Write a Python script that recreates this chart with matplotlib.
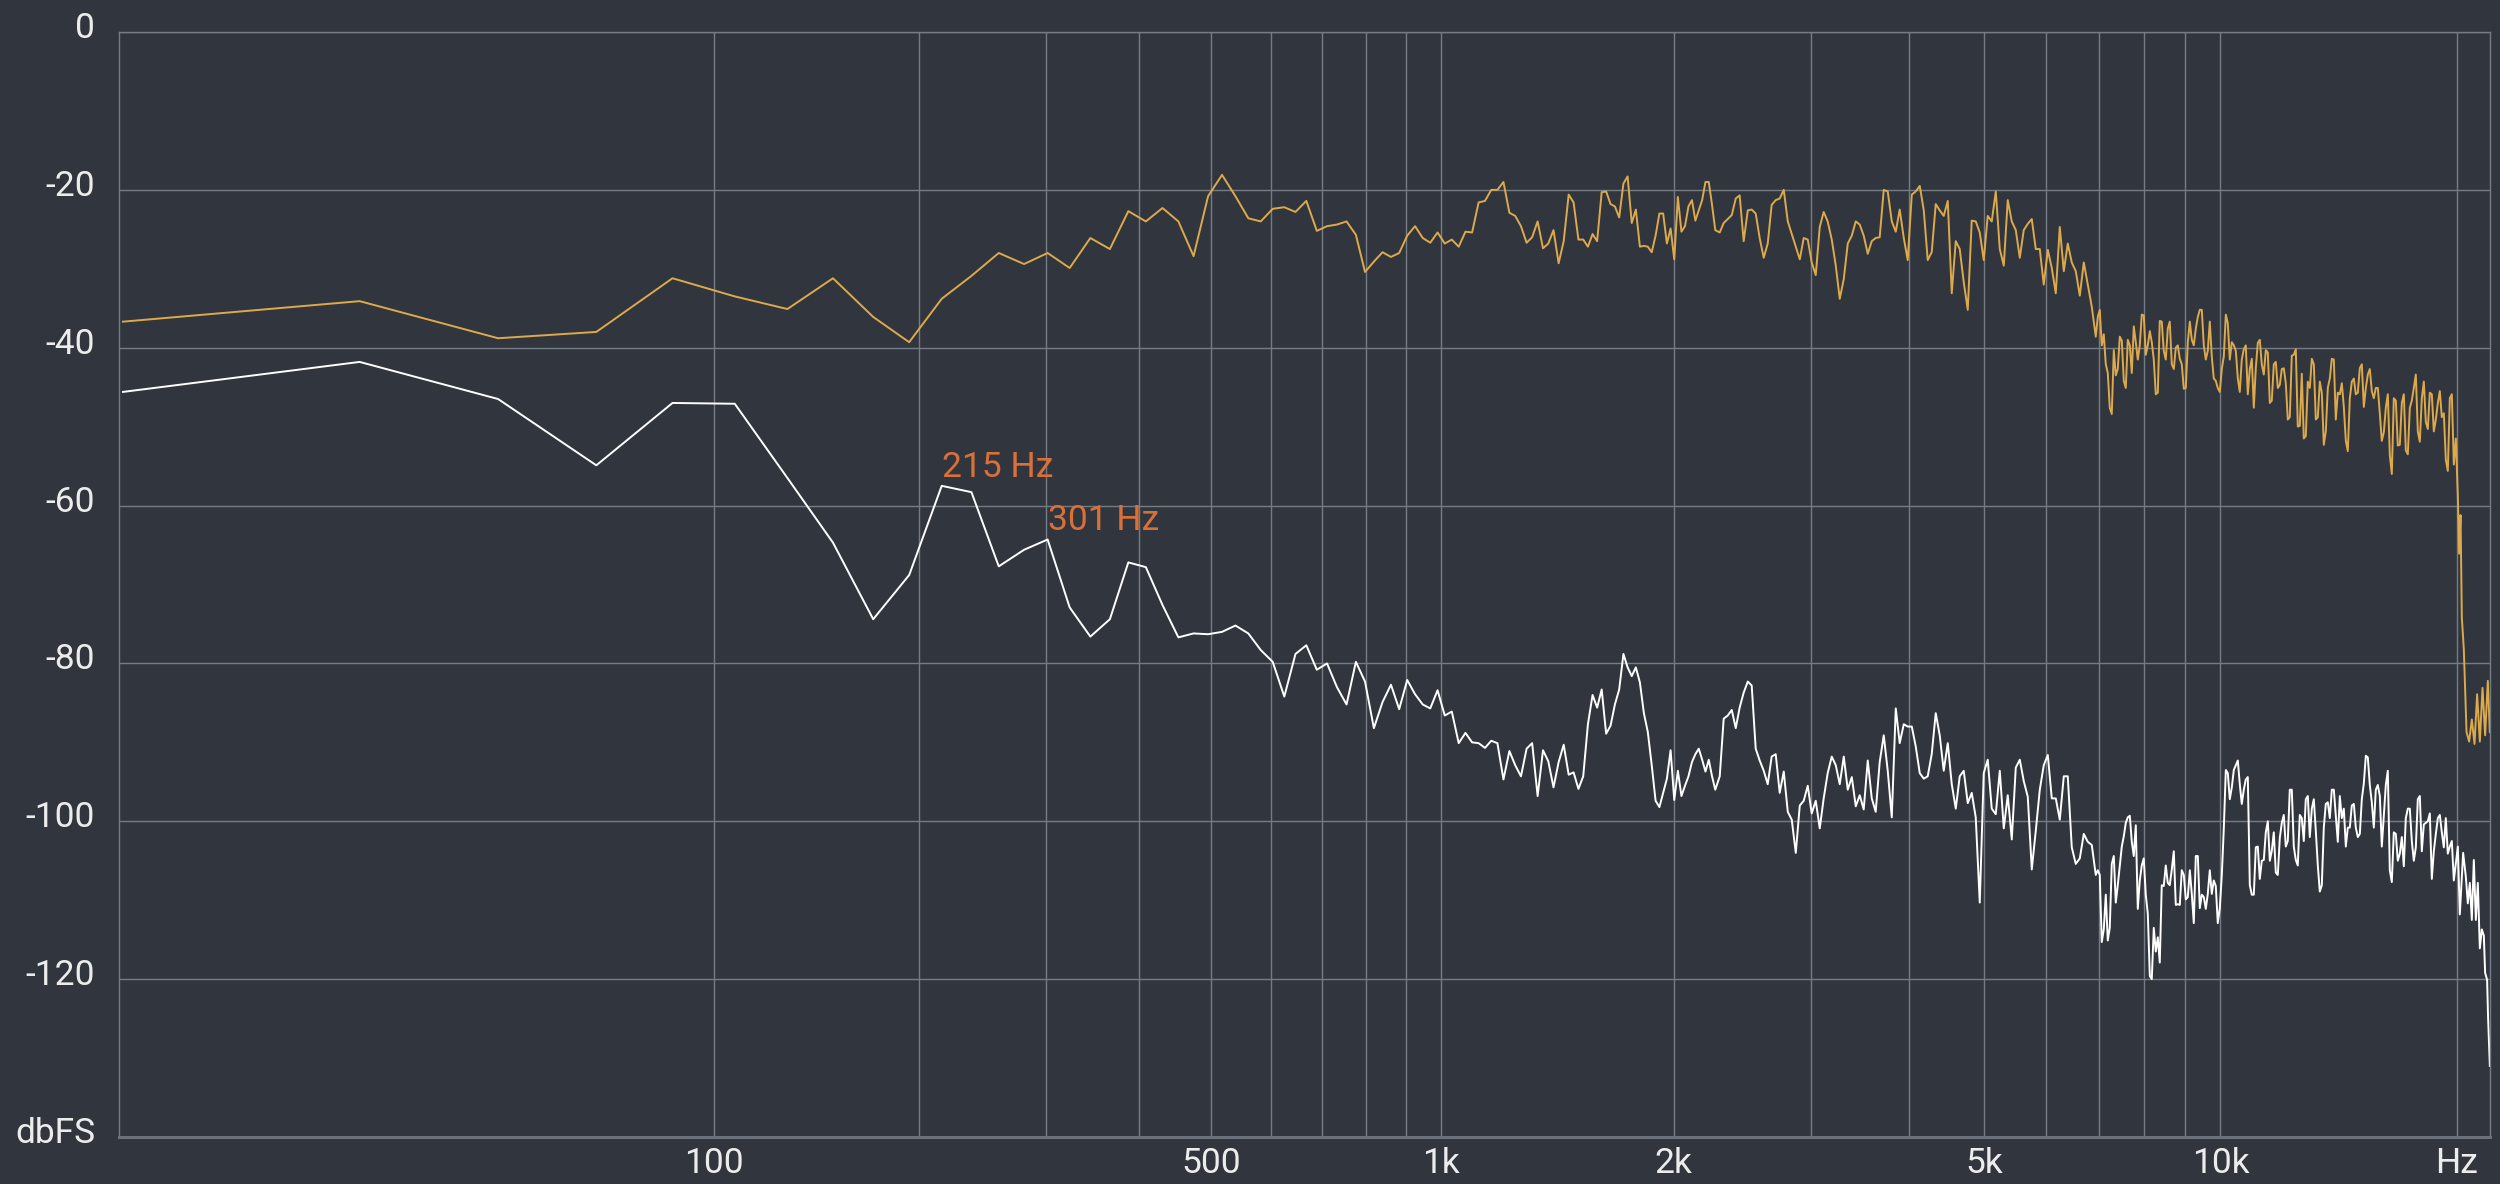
import numpy as np
import matplotlib.pyplot as plt
from matplotlib import transforms

# ---------------------------------------------------------------------------
# FFT setup
# ---------------------------------------------------------------------------
FS = 44100
NFFT = 2048
BIN_HZ = FS / NFFT                 # [Hz] bin spacing, ~21.5 Hz

# dB per FFT bin, bins 0..105 (DC .. ~2.26 kHz)
source_low = [
    -36.7, -34.1, -38.8, -38.0, -31.2, -33.5, -35.1, -31.2, -36.1, -39.3,
    -33.8, -30.9, -28.0, -29.4, -28.0, -29.9, -26.1, -27.5, -22.7, -24.0,
    -22.3, -24.0, -28.4, -20.8, -18.1, -20.8, -23.6, -24.0, -22.4, -22.2,
    -22.8, -21.4, -25.2, -24.6, -24.4, -24.0, -25.7, -30.4, -29.1, -27.9,
    -28.5, -28.0, -25.8, -24.6, -26.1, -26.7, -25.4, -26.8, -26.3, -27.2,
    -25.3, -25.4, -21.6, -21.4, -20.0, -20.0, -19.0, -22.9, -23.3, -24.6,
    -26.7, -26.0, -24.0, -27.4, -26.8, -25.1, -29.3, -26.5, -20.6, -21.6,
    -26.3, -26.3, -27.2, -25.6, -26.5, -20.3, -20.2, -21.8, -22.1, -23.5,
    -19.2, -18.3, -24.2, -22.5, -27.2, -27.1, -27.2, -27.9, -25.8, -23.0,
    -23.0, -26.8, -24.9, -28.8, -20.9, -25.3, -24.6, -22.1, -21.3, -23.9,
    -22.6, -21.3, -19.0, -19.0, -21.9, -25.1,
]
residual_low = [
    -45.6, -41.8, -46.5, -54.9, -47.0, -47.1, -56.5, -64.7, -74.4, -68.8,
    -57.5, -58.3, -67.7, -65.6, -64.3, -72.9, -76.6, -74.4, -67.2, -67.8,
    -72.6, -76.7, -76.2, -76.3, -76.0, -75.2, -76.2, -78.3, -79.8, -84.2,
    -78.8, -77.7, -80.8, -80.0, -83.0, -85.2, -79.8, -82.3, -88.2, -84.9,
    -82.7, -85.8, -82.1, -83.9, -85.2, -85.7, -83.4, -86.6, -86.1, -90.1,
    -88.8, -90.0, -90.1, -90.7, -89.8, -90.1, -94.7, -91.1, -92.9, -94.3,
    -90.8, -90.1, -96.8, -91.0, -92.4, -95.7, -92.5, -90.3, -94.1, -93.8,
    -95.9, -94.3, -87.7, -84.0, -85.6, -83.3, -88.9, -87.9, -85.2, -83.3,
    -78.8, -80.5, -81.6, -80.5, -82.4, -86.3, -88.7, -92.9, -97.4, -98.2,
    -96.4, -94.6, -91.0, -97.3, -93.6, -96.8, -95.5, -94.3, -92.5, -91.5,
    -90.8, -92.2, -93.7, -92.2, -94.3, -96.0,
]

# above ~2.3 kHz the bins are denser than the screen: readings at these freqs
hi_freq = [
    2291, 2318, 2346, 2374, 2402, 2430, 2459, 2489, 2518, 2548,
    2578, 2609, 2640, 2671, 2703, 2735, 2768, 2801, 2834, 2868,
    2902, 2936, 2971, 3006, 3042, 3078, 3114, 3151, 3189, 3227,
    3265, 3304, 3343, 3383, 3423, 3463, 3504, 3546, 3588, 3630,
    3673, 3717, 3761, 3806, 3851,
    3896, 3943, 3989, 4037, 4084, 4133, 4182, 4231, 4281, 4332,
    4383, 4435, 4488, 4541, 4595, 4649, 4704, 4760, 4816, 4873,
    4931, 4989, 5048, 5108, 5169,
    5230, 5292, 5354, 5418, 5482, 5547, 5612, 5679, 5746, 5814,
    5883, 5952, 6023, 6094, 6166, 6239, 6313, 6387, 6463, 6539,
    6617, 6695, 6774, 6854, 6935,
    7017, 7100, 7184, 7269, 7355, 7442, 7530, 7619, 7709, 7800,
    7892, 7985, 8080, 8175, 8272, 8369, 8468, 8568, 8670, 8772,
    8876, 8981, 9087, 9194, 9303,
    9413, 9524, 9636, 9750, 9865, 9982, 10100, 10219, 10340, 10462,
    10585, 10710, 10837, 10965, 11094, 11225, 11358, 11492, 11628, 11765,
    11904, 12044, 12186, 12330, 12476,
    12623, 12772, 12923, 13076, 13230, 13386, 13544, 13704, 13866, 14029,
    14195, 14363, 14532, 14704, 14877, 15053, 15231, 15410, 15592, 15776,
    15962, 16151, 16341, 16534, 16729,
    16927, 17126, 17329, 17533, 17740, 17949, 18161, 18375, 18592, 18812,
    19033, 19258, 19485, 19715, 19948,
]
source_hi = [
    -25.4, -24.2, -23.7, -23.2, -21.1, -20.7, -26.5, -22.6, -22.5, -23.0,
    -26.1, -28.6, -26.8, -21.9, -21.3, -21.1, -20.0, -24.0, -25.6, -27.2,
    -28.8, -26.1, -26.3, -29.2, -30.8, -24.7, -22.8, -24.0, -26.3, -29.6,
    -33.8, -31.3, -26.8, -25.8, -24.0, -24.4, -25.8, -28.1, -26.5, -26.1,
    -26.0, -20.0, -20.2, -24.0, -25.3, -22.5, -26.1, -28.9, -20.6, -20.2,
    -19.5, -22.6, -28.9, -27.9, -21.8, -22.6, -23.3, -21.4, -33.1, -26.5,
    -27.5, -31.7, -35.2, -23.9, -24.0, -25.4,
    -28.9, -23.3, -24.0, -20.2, -27.5, -29.6, -21.3, -24.0, -25.1, -28.6,
    -25.1, -24.3, -23.7, -27.5, -27.5, -32.0, -27.6, -29.9, -33.1, -24.7,
    -30.3, -26.8, -29.2, -30.3, -33.4, -29.2, -32.0, -34.8, -38.6, -35.2,
    -38.3, -43.2, -48.4, -43.5, -38.6, -44.2, -39.0, -43.2, -39.3, -39.7,
    -35.9, -39.7, -39.3, -45.9, -36.6, -40.4, -37.6, -42.1, -40.0, -41.4,
    -45.2, -39.3, -39.0, -37.6, -35.2, -39.7, -40.4, -41.1, -44.2, -45.6,
    -41.1, -36.9, -39.3, -40.4, -45.6,
    -40.2, -45.9, -41.4, -42.6, -39.0, -43.4, -40.6, -46.7, -41.8, -44.7,
    -42.6, -49.1, -41.0, -40.2, -49.9, -51.5, -44.3, -41.4, -49.1, -44.3,
    -52.3, -45.1, -41.4, -49.1, -45.9, -47.5, -53.1, -44.3, -45.9, -42.6,
    -47.5, -43.4, -45.5, -45.1, -48.3, -50.7, -45.9, -56.0, -46.7, -52.3,
    -45.9, -53.5, -46.7, -43.4, -51.9, -44.3, -50.3, -45.9, -49.1, -45.5,
    -48.3, -55.6, -45.9, -51.5,
]
residual_hi = [
    -94.3, -87.0, -86.6, -85.9, -88.2, -85.6, -83.7, -82.3, -82.8, -90.8,
    -92.3, -93.6, -95.3, -91.8, -91.5, -96.4, -93.7, -98.8, -99.8, -104.0,
    -98.0, -97.4, -95.5, -99.0, -97.4, -100.9, -97.1, -93.9, -91.8, -92.9,
    -95.3, -91.8, -96.0, -94.4, -98.1, -96.7, -98.5, -92.3, -97.1, -98.8,
    -92.5, -89.1, -93.6, -99.5, -85.7, -90.1, -87.7, -88.0, -88.0, -90.5,
    -93.9, -94.6, -94.3, -91.5, -86.3, -89.1, -93.6, -90.1, -95.3, -98.4,
    -94.3, -93.6, -97.7, -96.4, -99.5, -110.3,
    -93.9, -92.2, -98.4, -99.1, -93.6, -100.9, -96.7, -102.3, -93.2, -92.2,
    -94.9, -96.9, -106.1, -101.2, -96.0, -92.9, -91.6, -97.1, -97.1, -99.8,
    -94.3, -94.3, -103.3, -105.4, -104.7, -101.6, -102.6, -103.0, -106.8, -106.8,
    -113.7, -115.1, -105.4, -110.3, -105.7, -101.9, -99.5, -102.6, -100.5, -107.5,
    -104.7, -111.7, -120.0, -116.5, -117.9, -108.2, -107.8, -106.1, -110.6, -110.6,
    -106.8, -109.6, -109.2, -104.4, -111.0, -109.6, -109.2, -109.2, -108.2, -111.0,
    -100.9, -93.9, -95.7, -92.9, -95.3,
    -96.0, -94.4, -109.3, -103.3, -107.3, -104.9, -100.0, -103.7, -106.5, -102.1,
    -99.2, -102.5, -96.0, -104.9, -99.2, -102.5, -96.8, -98.4, -101.2, -108.9,
    -100.8, -97.6, -96.0, -99.2, -96.8, -98.4, -100.8, -98.0, -100.8, -101.6,
    -95.2, -91.9, -97.6, -96.0, -96.8, -99.2, -93.6, -107.7, -101.6, -104.1,
    -105.7, -98.4, -102.5, -103.3, -96.8, -100.4, -100.0, -107.3, -101.6, -99.2,
    -103.3, -104.1, -102.5, -105.3,
]

# extra readings in between, 7 kHz .. 20 kHz (where the trace is a solid band)
mid_freq = [
    6976, 7058, 7142, 7226, 7312, 7398, 7486, 7574, 7664, 7754,
    7846, 7938, 8032, 8128, 8223, 8321, 8418, 8518, 8618, 8721,
    8824, 8928, 9034, 9141, 9248, 9358, 9468, 9580, 9693, 9807,
    9923, 10041, 10160, 10279, 10401, 10524, 10647, 10773, 10901, 11030,
    11159, 11291, 11425, 11560, 11696, 11834, 11974, 12115, 12258, 12403,
    12549, 12697, 12847, 12999, 13153, 13308, 13465, 13624, 13785, 13948,
    14112, 14279, 14448, 14618, 14791, 14965, 15142, 15321, 15501, 15684,
    15869, 16056, 16246, 16437, 16631, 16827, 17027, 17227, 17431, 17636,
    17844, 18055, 18268, 18483, 18701, 18923, 19145, 19371, 19600, 19831,
]
source_mid = [
    -36.1, -39.7, -42.1, -47.6, -40.3, -42.7, -39.1, -45.1, -39.7, -37.3,
    -41.5, -35.8, -40.9, -37.9, -41.5, -45.7, -36.7, -41.5, -36.7, -42.7,
    -39.7, -42.1, -45.1, -36.7, -39.7, -36.1, -35.2, -41.5, -36.7, -43.9,
    -45.1, -42.7, -35.8, -41.5, -39.7, -43.9, -41.5, -39.7, -42.7, -47.6,
    -39.4, -42.1, -40.3, -47.0, -42.1, -45.1, -42.7, -44.5, -48.8, -40.9,
    -50.0, -43.3, -51.2, -45.1, -42.1, -48.8, -45.7, -50.6, -43.9, -41.5,
    -45.7, -44.5, -51.8, -46.4, -43.9, -45.7, -42.1, -45.1, -42.7, -46.4,
    -45.1, -51.8, -47.6, -53.6, -46.4, -52.4, -47.0, -53.0, -47.6, -45.1,
    -50.6, -46.4, -49.4, -45.7, -50.6, -47.0, -48.8, -54.2, -46.4, -54.8,
]
residual_mid = [
    -106.2, -115.3, -109.3, -113.5, -104.4, -108.1, -103.2, -100.2, -99.3, -104.4,
    -111.1, -105.6, -109.3, -119.6, -113.5, -114.7, -108.1, -105.6, -108.1, -103.8,
    -110.5, -106.2, -109.9, -106.2, -112.9, -104.4, -109.3, -111.1, -106.2, -107.5,
    -112.9, -106.8, -93.5, -97.2, -93.5, -92.3, -97.8, -94.7, -108.1, -109.3,
    -103.2, -105.0, -101.4, -105.0, -101.4, -106.8, -100.2, -103.2, -96.0, -103.2,
    -105.6, -99.6, -97.2, -102.0, -97.2, -105.6, -108.1, -97.8, -99.6, -96.0,
    -102.6, -99.6, -103.2, -100.8, -97.8, -102.0, -97.2, -91.7, -95.4, -100.8,
    -95.4, -103.2, -95.4, -106.2, -101.4, -105.0, -102.0, -99.6, -98.4, -105.0,
    -97.2, -103.8, -100.2, -99.0, -103.8, -99.6, -101.4, -99.6, -103.2, -107.5,
]

# top octave: anti-alias roll-off
source_tail_freq = [20065, 20142, 20225, 20302, 20421, 20584, 20741, 20906,
                    21072, 21233, 21402, 21572, 21737, 21910, 22040]
source_tail = [-58.8, -66.1, -61.2, -74.2, -78.2, -88.7, -89.9, -87.1,
               -90.2, -83.9, -89.9, -83.1, -89.1, -82.2, -88.7]
residual_tail_freq = [20065, 20183, 20380, 20541, 20662, 20784, 20906, 21029,
                      21153, 21277, 21402, 21528, 21655, 21737, 21865, 21923, 22040]
residual_tail = [-103.2, -111.8, -104.0, -107.0, -110.4, -107.8, -112.5, -104.9,
                 -112.5, -107.8, -116.1, -113.7, -114.5, -119.2, -120.1, -124.7, -131.0]

# marked peaks (bin index, label)
peak_bins = [10, 14]
peak_labels = ["215 Hz", "301 Hz"]

# axes
grid_freqs = [100, 200, 300, 400, 500, 600, 700, 800, 900,
              1000, 2000, 3000, 4000, 5000, 6000, 7000, 8000, 9000,
              10000, 20000]
label_freqs = [100, 500, 1000, 2000, 5000, 10000, 20000]
label_text = ["100", "500", "1k", "2k", "5k", "10k", "Hz"]
db_ticks = [0, -20, -40, -60, -80, -100, -120]
db_labels = ["0", "-20", "-40", "-60", "-80", "-100", "-120"]

# ---------------------------------------------------------------------------
# Assemble series (sorted by frequency)
# ---------------------------------------------------------------------------
low_freq = np.arange(len(source_low)) * BIN_HZ


def join(parts_f, parts_db):
    f = np.concatenate(parts_f)
    db = np.concatenate(parts_db)
    order = np.argsort(f, kind="stable")
    return f[order], db[order]


src_f, src_db = join([low_freq, hi_freq, mid_freq, source_tail_freq],
                     [source_low, source_hi, source_mid, source_tail])
res_f, res_db = join([low_freq, hi_freq, mid_freq, residual_tail_freq],
                     [residual_low, residual_hi, residual_mid, residual_tail])

# ---------------------------------------------------------------------------
# Plot
# ---------------------------------------------------------------------------
BG = "#31363e"
GRID = "#767c86"
TXT = "#ececec"
plt.rcParams["font.family"] = ["Roboto", "DejaVu Sans"]

fig = plt.figure(figsize=(25, 11.84), dpi=100, facecolor=BG)
ax = fig.add_axes([119 / 2500, 47 / 1184, 2371 / 2500, 1105 / 1184])
ax.set_facecolor(BG)


def fwd(f):
    return np.log10(np.clip(np.asarray(f, dtype=float) + BIN_HZ, 1e-3, None))


def inv(v):
    return 10.0 ** np.asarray(v, dtype=float) - BIN_HZ


ax.set_xscale("function", functions=(fwd, inv))
ax.set_xlim(-0.25, 22050)
ax.set_ylim(-140, 0)

ax.plot(src_f, src_db, color="#dcaa4c", linewidth=1.4)
ax.plot(res_f, res_db, color="#ffffff", linewidth=1.4)

for k, lab in zip(peak_bins, peak_labels):
    ax.annotate(lab, xy=(k * BIN_HZ, residual_low[k]), xytext=(0, 6.5),
                textcoords="offset points", ha="left", va="baseline",
                color="#d8703a", fontsize=25.5)

# grid and ticks
ax.set_xticks(grid_freqs, minor=True)
ax.set_xticks(label_freqs, label_text)
ax.set_yticks(db_ticks, [])
ax.grid(True, which="both", color=GRID, linewidth=1.0)
ax.tick_params(which="both", length=0)
ax.tick_params(axis="x", colors=TXT, labelsize=25.5, pad=7)

for side in ["left", "right", "top"]:
    ax.spines[side].set_color(GRID)
    ax.spines[side].set_linewidth(1.0)
ax.spines["bottom"].set_color("#6c727b")
ax.spines["bottom"].set_linewidth(2.2)

# y labels sit a little above their grid lines
ylab_tr = ax.get_yaxis_transform() + transforms.ScaledTranslation(
    -0.24, -0.06, fig.dpi_scale_trans)
for v, lab in zip(db_ticks + [-140], db_labels + ["dbFS"]):
    ax.text(0, v, lab, transform=ylab_tr, ha="right", va="baseline",
            color=TXT, fontsize=25.5)

fig.savefig("out.png", dpi=100, facecolor=BG)
